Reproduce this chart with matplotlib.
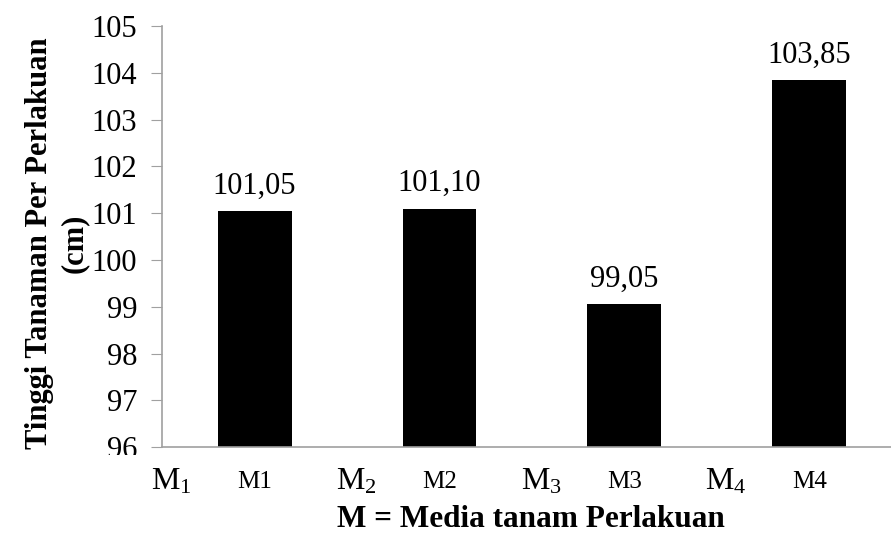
import matplotlib.pyplot as plt
from matplotlib.transforms import Bbox, TransformedBbox

# Datos del gráfico
perlakuan = ['M1', 'M2', 'M3', 'M4']
tinggi = [101.05, 101.10, 99.05, 103.85]
label_nilai = ['101,05', '101,10', '99,05', '103,85']
label_besar = ['$\\mathregular{M_1}$', '$\\mathregular{M_2}$', '$\\mathregular{M_3}$', '$\\mathregular{M_4}$']
y_ticks = [96, 97, 98, 99, 100, 101, 102, 103, 104, 105]

plt.rcParams['font.family'] = ['Liberation Serif', 'DejaVu Serif']
plt.rcParams['mathtext.fontset'] = 'custom'
plt.rcParams['mathtext.rm'] = 'Liberation Serif'

fig = plt.figure(figsize=(8.91, 5.33), dpi=100)
ax = fig.add_axes([0.182, 0.161, 0.830, 0.790])

x = list(range(len(perlakuan)))
ax.bar(x, [v - 96 for v in tinggi], bottom=96, width=0.4, color='black')

ax.set_xlim(-0.5, len(perlakuan) - 0.5)
ax.set_ylim(96, 105)
ax.set_yticks(y_ticks)
ax.set_yticklabels([str(t) for t in y_ticks], fontsize=22)
ax.set_xticks(x)
ax.set_xticklabels(perlakuan, fontsize=18)
ax.tick_params(axis='x', length=0, pad=17)
ax.tick_params(axis='y', length=8, color='#a0a0a0', pad=10)

for s in ['top', 'right']:
    ax.spines[s].set_visible(False)
for s in ['left', 'bottom']:
    ax.spines[s].set_color('#a0a0a0')
    ax.spines[s].set_linewidth(1.2)

# etiquetas de valor encima de las barras
for i, v in enumerate(tinggi):
    ax.text(i, v + 0.22, label_nilai[i], ha='center', va='bottom', fontsize=22)

# etiquetas grandes M_n a la izquierda de cada barra
for i, lab in enumerate(label_besar):
    ax.text(i - 0.45, -0.083, lab, transform=ax.get_xaxis_transform(),
            ha='center', va='center', fontsize=23)

# título del eje x
fig.text(0.596, 0.012, 'M = Media tanam Perlakuan', ha='center', va='baseline',
         fontsize=22.5, fontweight='bold')

# título del eje y
fig.text(0.064, 0.544, 'Tinggi Tanaman Per Perlakuan\n(cm)', rotation=90,
         ha='center', va='center', fontsize=22, fontweight='bold', linespacing=1.3,
         multialignment='center')

# el "96" queda cortado por abajo como en el original
clip = TransformedBbox(Bbox([[0, 0.146], [1, 1]]), fig.transFigure)
ax.get_yticklabels()[0].set_clip_box(clip)
ax.get_yticklabels()[0].set_clip_on(True)

fig.savefig('out.png', dpi=100)
